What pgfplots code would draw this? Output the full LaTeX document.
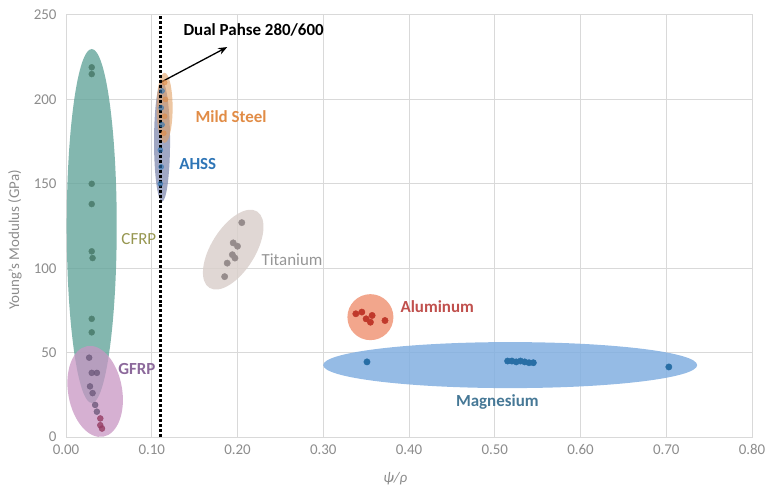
\documentclass[border=0pt]{standalone}
\usepackage{pgfplots}
\pgfplotsset{compat=1.18}
\usetikzlibrary{arrows.meta}
\usepackage{fontspec}
\setmainfont{Carlito}
\definecolor{gridc}{RGB}{217,217,217}
\definecolor{tickc}{RGB}{140,140,140}
\definecolor{cfrpF}{RGB}{100,165,155}
\definecolor{cfrpP}{RGB}{80,130,115}
\definecolor{gfrpF}{RGB}{200,150,195}
\definecolor{gfrpP}{RGB}{110,90,125}
\definecolor{gfrpR}{RGB}{150,60,100}
\definecolor{tiF}{RGB}{218,208,204}
\definecolor{tiP}{RGB}{150,140,140}
\definecolor{alF}{RGB}{240,150,120}
\definecolor{alP}{RGB}{192,57,43}
\definecolor{mgF}{RGB}{130,175,225}
\definecolor{mgP}{RGB}{40,110,165}
\definecolor{msF}{RGB}{225,160,100}
\definecolor{msP}{RGB}{225,140,70}
\definecolor{ahF}{RGB}{120,130,170}
\definecolor{ahP}{RGB}{46,117,182}
\begin{document}
\begin{tikzpicture}
\begin{axis}[
  scale only axis, width=686bp, height=422bp,
  xmin=0, xmax=0.8, ymin=0, ymax=250,
  xtick={0,0.1,...,0.8}, ytick={0,50,...,250},
  xticklabel={\pgfmathprintnumber[fixed,fixed zerofill,precision=2]{\tick}},
  /pgf/number format/assume math mode=true,
  grid=major, major grid style={gridc, line width=1pt},
  axis line style={gridc, line width=1pt},
  major tick length=0pt,
  tick label style={font=\fontsize{15}{17}\selectfont, text=tickc},
  xticklabel style={yshift=-4bp},
  yticklabel style={xshift=-6bp},
  xlabel={\itshape ψ/ρ},
  ylabel={Young's Modulus (GPa)},
  xlabel style={font=\fontsize{15}{17}\selectfont, text=tickc, at={(axis description cs:0.48,-0.0995)}, anchor=center},
  ylabel style={font=\fontsize{15}{17}\selectfont, text=tickc, at={(axis description cs:-0.0743,0.467)}, anchor=center},
  clip=false,
]
% ellipses
\fill[cfrpF, opacity=0.8] (axis cs:0.030,125) ellipse [x radius=25bp, y radius=177bp];
\fill[gfrpF, opacity=0.75, rotate around={10:(axis cs:0.034,27)}] (axis cs:0.034,27) ellipse [x radius=27bp, y radius=46bp];
\fill[ahF, opacity=0.7] (axis cs:0.112,175) ellipse [x radius=8bp, y radius=60bp];
\fill[msF, opacity=0.6] (axis cs:0.115,195) ellipse [x radius=8bp, y radius=35bp];
\fill[tiF, opacity=0.85, rotate around={-32:(axis cs:0.195,111)}] (axis cs:0.195,111) ellipse [x radius=22bp, y radius=45bp];
\fill[alF, opacity=0.85] (axis cs:0.355,71) ellipse [x radius=23bp, y radius=23bp];
\fill[mgF, opacity=0.85] (axis cs:0.518,42.6) ellipse [x radius=187bp, y radius=23bp];
% points
\addplot[only marks, mark=*, mark size=3pt, cfrpP, mark options={draw=none}] coordinates {
(0.030,219)(0.030,215)(0.030,150)(0.030,138)(0.030,110)(0.031,106)(0.030,70)(0.030,62)};
\addplot[only marks, mark=*, mark size=3pt, gfrpP, mark options={draw=none, opacity=0.8}] coordinates {
(0.027,47)(0.030,38)(0.036,38)(0.028,30)(0.031,26)(0.034,19)(0.036,15)};
\addplot[only marks, mark=*, mark size=3pt, gfrpR, mark options={draw=none, opacity=0.8}] coordinates {
(0.040,11)(0.040,7)(0.042,5)};
\addplot[only marks, mark=*, mark size=2.6pt, ahP, mark options={draw=none, opacity=0.6}] coordinates {
(0.110,150)(0.111,160)(0.110,170)(0.112,185)(0.111,195)(0.112,205)};
\addplot[only marks, mark=*, mark size=2.6pt, msP, mark options={draw=none, opacity=0.6}] coordinates {
(0.114,180)(0.115,190)(0.116,200)(0.115,210)};
\addplot[only marks, mark=*, mark size=3.2pt, tiP, mark options={draw=none}] coordinates {
(0.205,127)(0.195,115)(0.200,113)(0.194,108)(0.197,106)(0.188,103)(0.185,95)};
\addplot[only marks, mark=*, mark size=3.2pt, alP, mark options={draw=none}] coordinates {
(0.338,73)(0.345,74)(0.350,70)(0.355,68)(0.357,72)(0.372,69)};
\addplot[only marks, mark=*, mark size=3.2pt, mgP, mark options={draw=none}] coordinates {
(0.351,44.5)(0.515,45)(0.520,45)(0.525,44.5)(0.530,45)(0.535,44.5)(0.540,44)(0.545,44)(0.703,41.5)};
% dual phase line
\draw[black, line width=3pt, dash pattern=on 3pt off 2pt] (axis cs:0.11,0) -- (axis cs:0.11,250);
\draw[-{Stealth[length=9pt,width=7pt]}, black, line width=1.3pt] (axis cs:0.11,210) -- (axis cs:0.188,231);
% labels
\node[anchor=west, font=\fontsize{17}{19}\selectfont\bfseries] at (axis cs:0.133,241) {Dual Pahse 280/600};
\node[anchor=west, font=\fontsize{17}{19}\selectfont\bfseries, text=msP] at (axis cs:0.147,190) {Mild Steel};
\node[anchor=west, font=\fontsize{17}{19}\selectfont\bfseries, text=ahP] at (axis cs:0.128,162) {AHSS};
\node[anchor=west, font=\fontsize{17}{19}\selectfont, text={rgb,255:red,150;green,150;blue,80}] at (axis cs:0.0606,117) {CFRP};
\node[anchor=west, font=\fontsize{17}{19}\selectfont\bfseries, text={rgb,255:red,140;green,105;blue,155}] at (axis cs:0.057,40) {GFRP};
\node[anchor=west, font=\fontsize{17}{19}\selectfont, text={rgb,255:red,150;green,150;blue,150}] at (axis cs:0.224,105) {Titanium};
\node[anchor=west, font=\fontsize{17}{19}\selectfont\bfseries, text={rgb,255:red,192;green,80;blue,77}] at (axis cs:0.386,77) {Aluminum};
\node[anchor=center, font=\fontsize{17}{19}\selectfont\bfseries, text={rgb,255:red,70;green,120;blue,150}] at (axis cs:0.503,20.7) {Magnesium};
\end{axis}
\pgfresetboundingbox
\path ([shift={(-66bp,-52bp)}]current axis.south west) rectangle ([shift={(13bp,15bp)}]current axis.north east);
\end{tikzpicture}
\end{document}
